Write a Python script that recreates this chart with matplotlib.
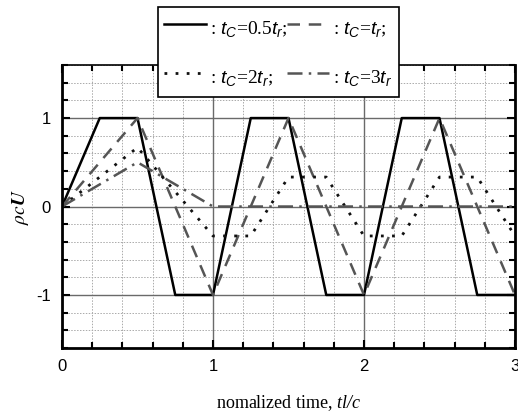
import matplotlib.pyplot as plt
from matplotlib.ticker import MultipleLocator

plt.rcParams['font.family'] = 'Liberation Sans'
plt.rcParams['axes.unicode_minus'] = False
plt.rcParams['mathtext.fontset'] = 'custom'
plt.rcParams['mathtext.it'] = 'Liberation Sans:italic'
plt.rcParams['mathtext.rm'] = 'Liberation Serif'
plt.rcParams['mathtext.sf'] = 'Liberation Serif:italic'

# t_c = 0.5 t_r
t_a = [0, 0.25, 0.5, 0.75, 1.0, 1.25, 1.5, 1.75, 2.0, 2.25, 2.5, 2.75, 3.0]
u_a = [0, 1, 1, -1, -1, 1, 1, -1, -1, 1, 1, -1, -1]
# t_c = t_r
t_b = [0, 0.5, 1.0, 1.5, 2.0, 2.5, 3.0]
u_b = [0, 1, -1, 1, -1, 1, -1]
# t_c = 2 t_r
t_c = [0, 0.5, 1.0, 1.25, 1.5, 1.75, 2.0, 2.25, 2.5, 2.75, 3.0]
u_c = [0, 0.667, -0.333, -0.333, 0.333, 0.333, -0.333, -0.333, 0.333, 0.333, -0.333]
# t_c = 3 t_r
t_d = [0, 0.5, 1.0, 3.0]
u_d = [0, 0.5, 0, 0]

labels = [': $t_C$=0.5$t_r$;', ': $t_C$=$t_r$;', ': $t_C$=2$t_r$;', ': $t_C$=3$t_r$']

fig = plt.figure(figsize=(5.18, 4.2), dpi=100)
ax = fig.add_axes([0.1197, 0.1714, 0.8745, 0.6738])

l1, = ax.plot(t_a, u_a, color='black', lw=1.8, ls='-')
l2, = ax.plot(t_b, u_b, color='#555555', lw=1.8, ls=(0, (5, 3.5)))
l3, = ax.plot(t_c, u_c, color='#111111', lw=2.0, ls=(0, (1, 3)))
l4, = ax.plot(t_d, u_d, color='#555555', lw=1.8, ls=(0, (6, 2.5, 1, 2.5)))

ax.set_xlim(0, 3)
ax.set_ylim(-1.6, 1.6)
ax.xaxis.set_major_locator(MultipleLocator(1))
ax.xaxis.set_minor_locator(MultipleLocator(0.2))
ax.yaxis.set_major_locator(MultipleLocator(1))
ax.yaxis.set_minor_locator(MultipleLocator(0.2))
ax.grid(which='major', color='#6a6a6a', lw=1.0, ls='-', zorder=0)
ax.grid(which='minor', color='#aaaaaa', lw=0.7, ls=(0, (1.5, 1.5)), zorder=0)
ax.set_axisbelow(True)

ax.tick_params(which='both', direction='in', top=True, right=True, labelsize=12,
               width=1.5, pad=8)
ax.tick_params(which='major', length=6)
ax.tick_params(which='minor', length=4)
for s in ['left', 'right', 'bottom']:
    ax.spines[s].set_linewidth(2)
ax.spines['top'].set_linewidth(1.2)

ax.set_xlabel('nomalized time, $\\mathsf{tl/c}$', family='Liberation Serif',
              fontsize=13, labelpad=14)
fig.text(0.04, 0.507, r'$\rho c\mathbfit{U}$', rotation=90, ha='center', va='center',
         fontsize=14, math_fontfamily='stix')

leg = fig.legend([l1, l3, l2, l4], [labels[0], labels[2], labels[1], labels[3]],
                 ncol=2, loc='upper center', bbox_to_anchor=(0.537, 0.983),
                 borderaxespad=0,
                 prop={'family': 'Liberation Serif', 'size': 14},
                 handlelength=2.15, handleheight=1.8, handletextpad=0.2,
                 columnspacing=0.0, labelspacing=1.15, borderpad=0.33,
                 fancybox=False, framealpha=1, edgecolor='black')
leg.get_frame().set_linewidth(1.2)

fig.savefig('out.png', dpi=100)
